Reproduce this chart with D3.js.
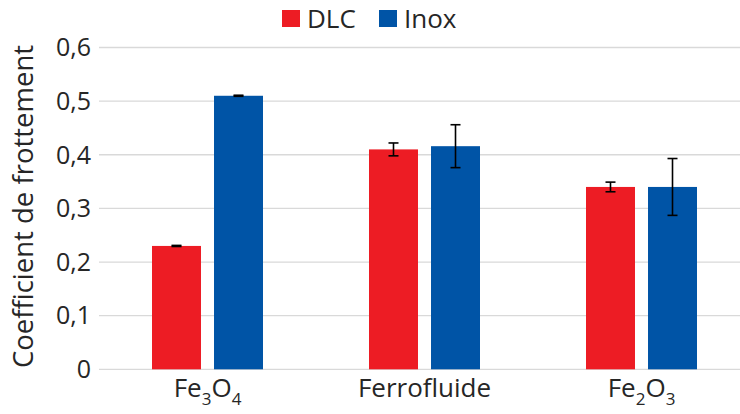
<!DOCTYPE html>
<html>
<head>
<meta charset="utf-8">
<script src="https://cdn.jsdelivr.net/npm/d3@7"></script>
<style>
  html, body { margin: 0; padding: 0; background: #fff; }
  svg { display: block; font-family: "Open Sans", sans-serif; }
</style>
</head>
<body>
<svg id="chart" width="740" height="414"></svg>
<script>
const categories = ["Fe3O4", "Ferrofluide", "Fe2O3"];
const series = ["DLC", "Inox"];
const dlcValues = [0.23, 0.41, 0.34];
const inoxValues = [0.51, 0.416, 0.34];
const dlcErrors = [0.001, 0.012, 0.009];
const inoxErrors = [0.001, 0.040, 0.053];
const yTicks = [0, 0.1, 0.2, 0.3, 0.4, 0.5, 0.6];
const colors = {DLC: "#ED1C24", Inox: "#0054A6"};

const valuesBySeries = {DLC: dlcValues, Inox: inoxValues};
const errorsBySeries = {DLC: dlcErrors, Inox: inoxErrors};

const svg = d3.select("#chart");
const textColor = "#262626";

const x0 = d3.scaleBand().domain(categories).range([99, 750]).padding(0);
const x1 = d3.scaleBand().domain(series).range([53, 164]).paddingInner(0.21).paddingOuter(0);
const y = d3.scaleLinear().domain([0, 0.6]).range([369.3, 47.5]);

// gridlines
svg.append("g").selectAll("line").data(yTicks).join("line")
  .attr("x1", 99).attr("x2", 740)
  .attr("y1", d => y(d)).attr("y2", d => y(d))
  .attr("stroke", "#d9d9d9").attr("stroke-width", 1.3);

// y axis labels
const fmt = d => d === 0 ? "0" : d3.format(".1f")(d).replace(".", ",");
svg.append("g").selectAll("text").data(yTicks).join("text")
  .attr("x", 91).attr("y", d => y(d))
  .attr("dy", "0.35em")
  .attr("text-anchor", "end")
  .attr("font-size", 25)
  .attr("fill", textColor)
  .text(fmt);

// bars
const data = [];
categories.forEach((c, i) => series.forEach(s => data.push({c, s, v: valuesBySeries[s][i], e: errorsBySeries[s][i]})));

svg.append("g").selectAll("rect").data(data).join("rect")
  .attr("x", d => x0(d.c) + x1(d.s))
  .attr("width", x1.bandwidth())
  .attr("y", d => y(d.v))
  .attr("height", d => y(0) - y(d.v))
  .attr("fill", d => colors[d.s]);

// error bars
const eg = svg.append("g").attr("stroke", "#000").attr("stroke-width", 1.6);
data.forEach(d => {
  const cx = x0(d.c) + x1(d.s) + x1.bandwidth() / 2;
  eg.append("line").attr("x1", cx).attr("x2", cx).attr("y1", y(d.v + d.e)).attr("y2", y(d.v - d.e));
  eg.append("line").attr("x1", cx - 5).attr("x2", cx + 5).attr("y1", y(d.v + d.e)).attr("y2", y(d.v + d.e));
  eg.append("line").attr("x1", cx - 5).attr("x2", cx + 5).attr("y1", y(d.v - d.e)).attr("y2", y(d.v - d.e));
});

// x labels with subscripts
const xl = svg.append("g");
categories.forEach(c => {
  const t = xl.append("text")
    .attr("x", x0(c) + x0.bandwidth() / 2)
    .attr("y", 397)
    .attr("text-anchor", "middle")
    .attr("font-size", 26)
    .attr("fill", textColor);
  const parts = c.match(/[A-Za-z]+|\d+/g);
  if (c === "Ferrofluide") { t.text(c); return; }
  parts.forEach(p => {
    if (/\d/.test(p)) {
      t.append("tspan").attr("font-size", 17).attr("dy", 8).text(p);
    } else {
      t.append("tspan").attr("dy", p === parts[0] ? 0 : -8).text(p);
    }
  });
});

// y title
svg.append("text")
  .attr("transform", "translate(33,206.5) rotate(-90)")
  .attr("text-anchor", "middle")
  .attr("font-size", 27.5)
  .attr("fill", textColor)
  .text("Coefficient de frottement");

// legend
const legendX = [282, 379];
const lg = svg.append("g");
series.forEach((s, i) => {
  lg.append("rect").attr("x", legendX[i]).attr("y", 10).attr("width", 18).attr("height", 17).attr("fill", colors[s]);
  lg.append("text").attr("x", legendX[i] + 25).attr("y", 28)
    .attr("font-size", 26).attr("fill", textColor).text(s);
});
</script>
</body>
</html>
